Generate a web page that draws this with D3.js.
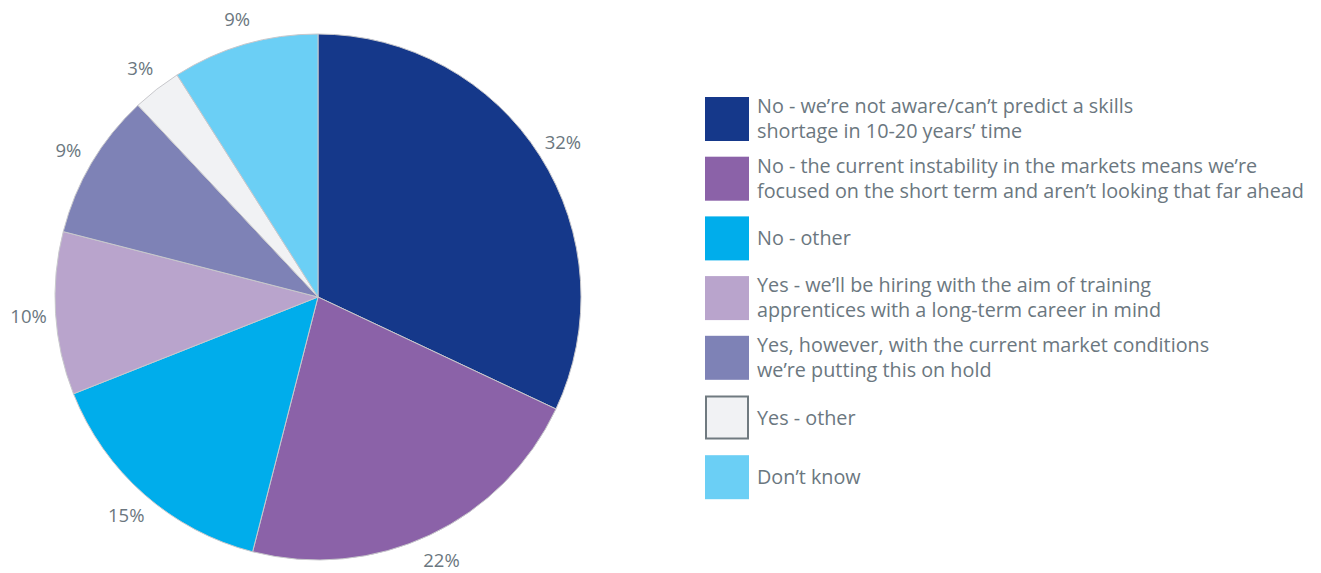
<!DOCTYPE html>
<html>
<head>
<meta charset="utf-8">
<script src="https://cdn.jsdelivr.net/npm/d3@7"></script>
<style>
  html, body { margin: 0; padding: 0; background: #ffffff; }
  svg { display: block; font-family: "Open Sans", "Noto Sans", sans-serif; }
</style>
</head>
<body>
<svg id="chart" width="1321" height="573"></svg>
<script>
// Survey answers, in drawing order (clockwise from 12 o'clock)
const categories = [
  "No - we’re not aware/can’t predict a skills|shortage in 10-20 years’ time",
  "No - the current instability in the markets means we’re|focused on the short term and aren’t looking that far ahead",
  "No - other",
  "Yes - we’ll be hiring with the aim of training|apprentices with a long-term career in mind",
  "Yes, however, with the current market conditions|we’re putting this on hold",
  "Yes - other",
  "Don’t know"
];
const values = [32, 22, 15, 10, 9, 3, 9];
const colors = ["#15388a", "#8b62a8", "#00adeb", "#b9a4cc", "#7e82b6", "#f1f2f4", "#6bcff5"];

const svg = d3.select("#chart");
const cx = 318, cy = 297, radius = 263, labelRadius = 290;
const textColor = "#6b7780";

const pie = d3.pie().sort(null).value(d => d.value);
const arc = d3.arc().innerRadius(0).outerRadius(radius);
const labelArc = d3.arc().innerRadius(labelRadius).outerRadius(labelRadius);

const data = categories.map((c, i) => ({ label: c, value: values[i], color: colors[i] }));
const arcs = pie(data);

const g = svg.append("g").attr("transform", `translate(${cx},${cy})`);

g.selectAll("path.slice")
  .data(arcs)
  .join("path")
  .attr("class", "slice")
  .attr("d", arc)
  .attr("fill", d => d.data.color)
  .attr("stroke", "#c8c8cc")
  .attr("stroke-width", 1);

g.selectAll("text.pct")
  .data(arcs)
  .join("text")
  .attr("class", "pct")
  .attr("transform", d => `translate(${labelArc.centroid(d)})`)
  .attr("text-anchor", "middle")
  .attr("dominant-baseline", "central")
  .attr("fill", textColor)
  .attr("font-size", 18.5)
  .text(d => d.data.value + "%");

// Legend
const legendX = 705, legendY0 = 97, legendStep = 59.7, sw = 44;
const legend = svg.append("g");
const items = legend.selectAll("g.item")
  .data(data)
  .join("g")
  .attr("class", "item")
  .attr("transform", (d, i) => `translate(${legendX},${legendY0 + i * legendStep})`);

items.append("rect")
  .attr("x", d => d.color === "#f1f2f4" ? 1 : 0)
  .attr("y", d => d.color === "#f1f2f4" ? 1 : 0)
  .attr("width", d => d.color === "#f1f2f4" ? sw - 2 : sw)
  .attr("height", d => d.color === "#f1f2f4" ? sw - 2 : sw)
  .attr("fill", d => d.color)
  .attr("stroke", d => d.color === "#f1f2f4" ? "#707a80" : "none")
  .attr("stroke-width", 2);

items.each(function(d) {
  const lines = d.label.split("|");
  const t = d3.select(this).append("text")
    .attr("fill", textColor)
    .attr("font-size", 19.8);
  const startY = lines.length === 1 ? 29 : 16;
  lines.forEach((ln, k) => {
    t.append("tspan")
      .attr("x", 52)
      .attr("y", startY + k * 25)
      .text(ln);
  });
});
</script>
</body>
</html>
